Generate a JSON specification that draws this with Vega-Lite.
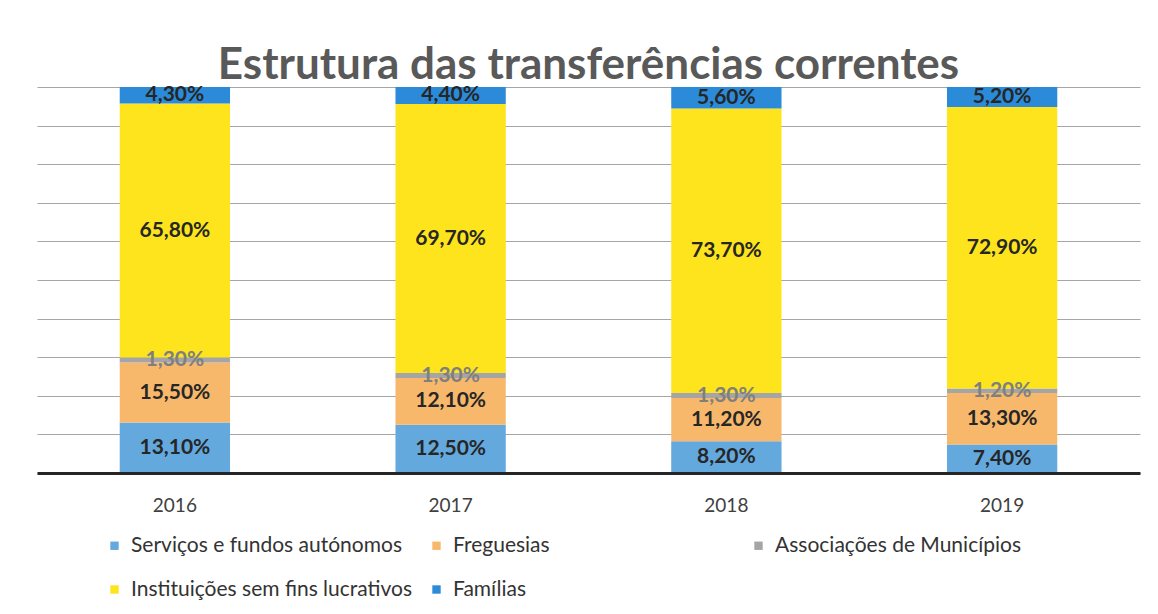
{
  "$schema": "https://vega.github.io/schema/vega-lite/v6.json",
  "width": 1103,
  "height": 386,
  "autosize": {"type": "none"},
  "padding": {"left": 37, "top": 87, "right": 18, "bottom": 141},
  "background": "#ffffff",
  "config": {
    "locale": {"number": {"decimal": ",", "thousands": ".", "grouping": [3], "currency": ["", " €"]}},
    "view": {"stroke": null},
    "font": "Lato"
  },
  "title": {
    "text": "Estrutura das transferências correntes",
    "fontSize": 44,
    "font": "Lato",
    "fontWeight": "bold",
    "color": "#595959",
    "anchor": "middle",
    "offset": -4
  },
  "data": {
    "values": [
      {"ano": "2016", "serie": "Serviços e fundos autónomos", "valor": 0.131, "ordem": 1},
      {"ano": "2016", "serie": "Freguesias", "valor": 0.155, "ordem": 2},
      {"ano": "2016", "serie": "Associações de Municípios", "valor": 0.013, "ordem": 3},
      {"ano": "2016", "serie": "Instituições sem fins lucrativos", "valor": 0.658, "ordem": 4},
      {"ano": "2016", "serie": "Famílias", "valor": 0.043, "ordem": 5},
      {"ano": "2017", "serie": "Serviços e fundos autónomos", "valor": 0.125, "ordem": 1},
      {"ano": "2017", "serie": "Freguesias", "valor": 0.121, "ordem": 2},
      {"ano": "2017", "serie": "Associações de Municípios", "valor": 0.013, "ordem": 3},
      {"ano": "2017", "serie": "Instituições sem fins lucrativos", "valor": 0.697, "ordem": 4},
      {"ano": "2017", "serie": "Famílias", "valor": 0.044, "ordem": 5},
      {"ano": "2018", "serie": "Serviços e fundos autónomos", "valor": 0.082, "ordem": 1},
      {"ano": "2018", "serie": "Freguesias", "valor": 0.112, "ordem": 2},
      {"ano": "2018", "serie": "Associações de Municípios", "valor": 0.013, "ordem": 3},
      {"ano": "2018", "serie": "Instituições sem fins lucrativos", "valor": 0.737, "ordem": 4},
      {"ano": "2018", "serie": "Famílias", "valor": 0.056, "ordem": 5},
      {"ano": "2019", "serie": "Serviços e fundos autónomos", "valor": 0.074, "ordem": 1},
      {"ano": "2019", "serie": "Freguesias", "valor": 0.133, "ordem": 2},
      {"ano": "2019", "serie": "Associações de Municípios", "valor": 0.012, "ordem": 3},
      {"ano": "2019", "serie": "Instituições sem fins lucrativos", "valor": 0.729, "ordem": 4},
      {"ano": "2019", "serie": "Famílias", "valor": 0.052, "ordem": 5}
    ]
  },
  "encoding": {
    "x": {
      "field": "ano",
      "type": "ordinal",
      "scale": {"paddingInner": 0.6, "paddingOuter": 0.3},
      "axis": {
        "title": null,
        "labelAngle": 0,
        "ticks": false,
        "domainColor": "#262626",
        "domainWidth": 3,
        "labelFontSize": 19,
        "labelColor": "#404040",
        "labelPadding": 23,
        "labelFont": "Lato",
        "zindex": 1
      }
    },
    "order": {"field": "ordem", "type": "quantitative", "sort": "ascending"}
  },
  "layer": [
    {
      "mark": {"type": "bar"},
      "encoding": {
        "y": {
          "field": "valor",
          "type": "quantitative",
          "stack": "zero",
          "scale": {"domain": [0, 1]},
          "axis": {
            "title": null,
            "labels": false,
            "ticks": false,
            "domain": false,
            "values": [0, 0.1, 0.2, 0.3, 0.4, 0.5, 0.6, 0.7, 0.8, 0.9, 1],
            "gridColor": "#a6a6a6",
            "gridWidth": 1
          }
        },
        "color": {
          "field": "serie",
          "type": "nominal",
          "scale": {
            "domain": ["Serviços e fundos autónomos", "Freguesias", "Associações de Municípios", "Instituições sem fins lucrativos", "Famílias"],
            "range": ["#63a9de", "#f8b86c", "#a5a5a5", "#fde41c", "#2b8bd8"]
          },
          "legend": {
            "orient": "none",
            "legendX": 67,
            "legendY": 448,
            "direction": "horizontal",
            "columns": 3,
            "gridAlign": "all",
            "columnPadding": 13,
            "rowPadding": 22,
            "symbolType": "square",
            "symbolSize": 70,
            "symbolStrokeWidth": 0,
            "labelFontSize": 21,
            "labelFont": "Lato",
            "labelColor": "#333333",
            "labelLimit": 400,
            "labelOffset": 6,
            "title": null
          }
        }
      }
    },
    {
      "mark": {"type": "text", "fontSize": 21, "fontWeight": "bold", "font": "Lato"},
      "encoding": {
        "y": {
          "field": "valor",
          "type": "quantitative",
          "stack": "zero",
          "bandPosition": 0.5,
          "scale": {"domain": [0, 1]},
          "axis": {
            "title": null,
            "labels": false,
            "ticks": false,
            "domain": false,
            "values": [0, 0.1, 0.2, 0.3, 0.4, 0.5, 0.6, 0.7, 0.8, 0.9, 1],
            "gridColor": "#a6a6a6",
            "gridWidth": 1
          }
        },
        "detail": {"field": "serie", "type": "nominal"},
        "text": {"field": "valor", "type": "quantitative", "format": ".2%"},
        "color": {
          "condition": {"test": "datum.serie === 'Associações de Municípios'", "value": "#7f7f7f"},
          "value": "#262626"
        }
      }
    }
  ]
}
